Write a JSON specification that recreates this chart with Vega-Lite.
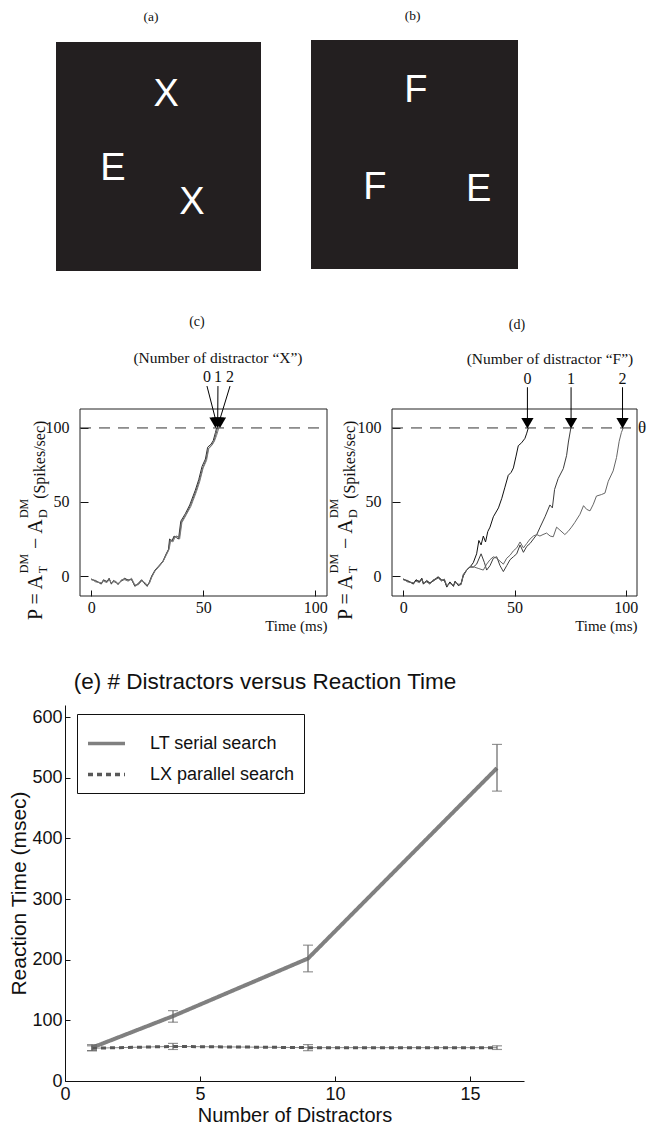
{
  "$schema": "https://vega.github.io/schema/vega-lite/v6.json",
  "width": 648,
  "height": 1126,
  "padding": 0,
  "autosize": {"type": "none"},
  "background": "white",
  "config": {
    "view": {"stroke": null},
    "axis": {"grid": false, "labelColor": "#111", "titleColor": "#111", "domainColor": "#111", "tickColor": "#111", "titleFontWeight": "normal", "labelFlush": false, "labelOverlap": false, "labelBound": false},
    "text": {"color": "#111"}
  },
  "datasets": {
    "stim": [
      {"p": "a", "letter": "X", "x": 53.8, "y": 72.1},
      {"p": "a", "letter": "E", "x": 27.8, "y": 39.7},
      {"p": "a", "letter": "X", "x": 66.3, "y": 24.9},
      {"p": "b", "letter": "F", "x": 50.7, "y": 72.8},
      {"p": "b", "letter": "F", "x": 30.9, "y": 30.4},
      {"p": "b", "letter": "E", "x": 81.0, "y": 29.7}
    ],
    "arrows": [
      {"p": "c", "n": "0", "t": 55.5, "tl": 51.7},
      {"p": "c", "n": "1", "t": 56.5, "tl": 56.6},
      {"p": "c", "n": "2", "t": 57.5, "tl": 62.0},
      {"p": "d", "n": "0", "t": 55.8, "tl": 55.8},
      {"p": "d", "n": "1", "t": 75.4, "tl": 75.4},
      {"p": "d", "n": "2", "t": 98.5, "tl": 98.5}
    ],
    "rt": [
      {"search": "LT serial search", "n": 1, "rt": 55, "lo": 50, "hi": 60},
      {"search": "LT serial search", "n": 4, "rt": 107, "lo": 97, "hi": 116},
      {"search": "LT serial search", "n": 9, "rt": 202, "lo": 180, "hi": 224},
      {"search": "LT serial search", "n": 16, "rt": 516, "lo": 478, "hi": 555},
      {"search": "LX parallel search", "n": 1, "rt": 54, "lo": 50, "hi": 58},
      {"search": "LX parallel search", "n": 4, "rt": 57, "lo": 52, "hi": 62},
      {"search": "LX parallel search", "n": 9, "rt": 55, "lo": 50, "hi": 60},
      {"search": "LX parallel search", "n": 16, "rt": 55, "lo": 52, "hi": 58}
    ],
    "curves": [
      {"p":"c","n":"0","t":0,"v":-2},{"p":"c","n":"0","t":2,"v":-3.5},{"p":"c","n":"0","t":4.5,"v":-5},{"p":"c","n":"0","t":5.5,"v":-2.5},{"p":"c","n":"0","t":7,"v":-4},{"p":"c","n":"0","t":8,"v":-1.5},{"p":"c","n":"0","t":9,"v":-5.5},{"p":"c","n":"0","t":10,"v":-3},{"p":"c","n":"0","t":11,"v":-4},{"p":"c","n":"0","t":12,"v":-5.5},{"p":"c","n":"0","t":13.5,"v":-3},{"p":"c","n":"0","t":15,"v":-1.5},{"p":"c","n":"0","t":16.5,"v":-3},{"p":"c","n":"0","t":18,"v":-2},{"p":"c","n":"0","t":19.5,"v":-7},{"p":"c","n":"0","t":21,"v":-5},{"p":"c","n":"0","t":22.5,"v":-2.5},{"p":"c","n":"0","t":24,"v":-5.5},{"p":"c","n":"0","t":25,"v":-7},{"p":"c","n":"0","t":26,"v":-4},{"p":"c","n":"0","t":27,"v":0},{"p":"c","n":"0","t":28.5,"v":4},{"p":"c","n":"0","t":30,"v":6.5},{"p":"c","n":"0","t":32,"v":10},{"p":"c","n":"0","t":33.5,"v":15},{"p":"c","n":"0","t":34.5,"v":18},{"p":"c","n":"0","t":35,"v":25},{"p":"c","n":"0","t":36,"v":23.5},{"p":"c","n":"0","t":37,"v":27},{"p":"c","n":"0","t":38,"v":26},{"p":"c","n":"0","t":39,"v":25},{"p":"c","n":"0","t":40,"v":37},{"p":"c","n":"0","t":42,"v":42},{"p":"c","n":"0","t":44,"v":48},{"p":"c","n":"0","t":45,"v":52},{"p":"c","n":"0","t":46.5,"v":58},{"p":"c","n":"0","t":48,"v":65},{"p":"c","n":"0","t":49.5,"v":74},{"p":"c","n":"0","t":51,"v":79},{"p":"c","n":"0","t":52,"v":87},{"p":"c","n":"0","t":53.5,"v":89},{"p":"c","n":"0","t":54.5,"v":91.5},{"p":"c","n":"0","t":55.5,"v":97},{"p":"c","n":"0","t":56,"v":100},
      {"p":"c","n":"1","t":0,"v":-2.5},{"p":"c","n":"1","t":2,"v":-3},{"p":"c","n":"1","t":4.5,"v":-5.5},{"p":"c","n":"1","t":5.5,"v":-3},{"p":"c","n":"1","t":7,"v":-3.5},{"p":"c","n":"1","t":8,"v":-2},{"p":"c","n":"1","t":9,"v":-5},{"p":"c","n":"1","t":10,"v":-3.5},{"p":"c","n":"1","t":11,"v":-4.5},{"p":"c","n":"1","t":12,"v":-5},{"p":"c","n":"1","t":13.5,"v":-3.5},{"p":"c","n":"1","t":15,"v":-2},{"p":"c","n":"1","t":16.5,"v":-2.5},{"p":"c","n":"1","t":18,"v":-2.5},{"p":"c","n":"1","t":19.5,"v":-6.5},{"p":"c","n":"1","t":21,"v":-5.5},{"p":"c","n":"1","t":22.5,"v":-3},{"p":"c","n":"1","t":24,"v":-5},{"p":"c","n":"1","t":25,"v":-6.5},{"p":"c","n":"1","t":26,"v":-4.5},{"p":"c","n":"1","t":27,"v":-0.5},{"p":"c","n":"1","t":28.5,"v":3.5},{"p":"c","n":"1","t":30,"v":6},{"p":"c","n":"1","t":32,"v":9.5},{"p":"c","n":"1","t":33.5,"v":14.5},{"p":"c","n":"1","t":34.5,"v":17.5},{"p":"c","n":"1","t":35.3,"v":24.5},{"p":"c","n":"1","t":36.3,"v":24},{"p":"c","n":"1","t":37.3,"v":26.5},{"p":"c","n":"1","t":38.3,"v":27},{"p":"c","n":"1","t":39.3,"v":25.5},{"p":"c","n":"1","t":40.3,"v":36.5},{"p":"c","n":"1","t":42.3,"v":41.5},{"p":"c","n":"1","t":44.3,"v":47.5},{"p":"c","n":"1","t":45.3,"v":51.5},{"p":"c","n":"1","t":46.8,"v":57.5},{"p":"c","n":"1","t":48.3,"v":64.5},{"p":"c","n":"1","t":49.8,"v":73},{"p":"c","n":"1","t":51.3,"v":78.5},{"p":"c","n":"1","t":52.3,"v":86},{"p":"c","n":"1","t":53.8,"v":88.5},{"p":"c","n":"1","t":54.8,"v":91},{"p":"c","n":"1","t":55.8,"v":96},{"p":"c","n":"1","t":56.4,"v":100},
      {"p":"c","n":"2","t":0,"v":-2},{"p":"c","n":"2","t":2,"v":-4},{"p":"c","n":"2","t":4.5,"v":-4.5},{"p":"c","n":"2","t":5.5,"v":-3.5},{"p":"c","n":"2","t":7,"v":-4.5},{"p":"c","n":"2","t":8,"v":-2.5},{"p":"c","n":"2","t":9,"v":-4.5},{"p":"c","n":"2","t":10,"v":-4},{"p":"c","n":"2","t":11,"v":-3.5},{"p":"c","n":"2","t":12,"v":-6},{"p":"c","n":"2","t":13.5,"v":-2.5},{"p":"c","n":"2","t":15,"v":-2.5},{"p":"c","n":"2","t":16.5,"v":-3.5},{"p":"c","n":"2","t":18,"v":-1.5},{"p":"c","n":"2","t":19.5,"v":-6},{"p":"c","n":"2","t":21,"v":-6},{"p":"c","n":"2","t":22.5,"v":-3.5},{"p":"c","n":"2","t":24,"v":-4.5},{"p":"c","n":"2","t":25,"v":-6},{"p":"c","n":"2","t":26,"v":-5},{"p":"c","n":"2","t":27,"v":-1},{"p":"c","n":"2","t":28.5,"v":3.5},{"p":"c","n":"2","t":30,"v":6},{"p":"c","n":"2","t":32,"v":9.5},{"p":"c","n":"2","t":33.5,"v":14},{"p":"c","n":"2","t":34.8,"v":18},{"p":"c","n":"2","t":35.5,"v":24},{"p":"c","n":"2","t":36.5,"v":23},{"p":"c","n":"2","t":37.5,"v":26.5},{"p":"c","n":"2","t":38.5,"v":26.5},{"p":"c","n":"2","t":39.5,"v":25},{"p":"c","n":"2","t":40.5,"v":36},{"p":"c","n":"2","t":42.5,"v":41.5},{"p":"c","n":"2","t":44.5,"v":47},{"p":"c","n":"2","t":45.5,"v":51},{"p":"c","n":"2","t":47,"v":57},{"p":"c","n":"2","t":48.5,"v":64},{"p":"c","n":"2","t":50,"v":73},{"p":"c","n":"2","t":51.5,"v":78},{"p":"c","n":"2","t":52.5,"v":86},{"p":"c","n":"2","t":54,"v":88.5},{"p":"c","n":"2","t":55,"v":91},{"p":"c","n":"2","t":56,"v":95},{"p":"c","n":"2","t":57,"v":100},
      {"p":"d","n":"0","t":0,"v":-2},{"p":"d","n":"0","t":2,"v":-3.5},{"p":"d","n":"0","t":4.6,"v":-5},{"p":"d","n":"0","t":5.8,"v":-2.5},{"p":"d","n":"0","t":7.3,"v":-4},{"p":"d","n":"0","t":8.4,"v":-1.5},{"p":"d","n":"0","t":9.1,"v":-5.5},{"p":"d","n":"0","t":10.6,"v":-3},{"p":"d","n":"0","t":12,"v":-5},{"p":"d","n":"0","t":13.5,"v":-3},{"p":"d","n":"0","t":15.8,"v":-0.5},{"p":"d","n":"0","t":17.3,"v":-3},{"p":"d","n":"0","t":18.5,"v":-2.5},{"p":"d","n":"0","t":19.6,"v":-7.5},{"p":"d","n":"0","t":21,"v":-4},{"p":"d","n":"0","t":22.6,"v":-7},{"p":"d","n":"0","t":23.3,"v":-3.5},{"p":"d","n":"0","t":24.8,"v":-6.5},{"p":"d","n":"0","t":26,"v":-5.5},{"p":"d","n":"0","t":27,"v":0},{"p":"d","n":"0","t":28.5,"v":4},{"p":"d","n":"0","t":30,"v":6},{"p":"d","n":"0","t":31.5,"v":9},{"p":"d","n":"0","t":33,"v":15},{"p":"d","n":"0","t":34,"v":24},{"p":"d","n":"0","t":35,"v":21},{"p":"d","n":"0","t":36,"v":27},{"p":"d","n":"0","t":37,"v":23},{"p":"d","n":"0","t":38,"v":30},{"p":"d","n":"0","t":39,"v":33},{"p":"d","n":"0","t":40.5,"v":40},{"p":"d","n":"0","t":42.8,"v":46},{"p":"d","n":"0","t":44.3,"v":52.5},{"p":"d","n":"0","t":45.7,"v":60},{"p":"d","n":"0","t":47.2,"v":68},{"p":"d","n":"0","t":48.5,"v":70},{"p":"d","n":"0","t":49.5,"v":73},{"p":"d","n":"0","t":50.7,"v":81},{"p":"d","n":"0","t":51.7,"v":88},{"p":"d","n":"0","t":53.2,"v":90},{"p":"d","n":"0","t":54.7,"v":93},{"p":"d","n":"0","t":55.5,"v":96.5},{"p":"d","n":"0","t":56.2,"v":100},
      {"p":"d","n":"1","t":0,"v":-2.5},{"p":"d","n":"1","t":2,"v":-3},{"p":"d","n":"1","t":4.6,"v":-5.5},{"p":"d","n":"1","t":5.8,"v":-3},{"p":"d","n":"1","t":7.3,"v":-3.5},{"p":"d","n":"1","t":8.4,"v":-2},{"p":"d","n":"1","t":9.1,"v":-5},{"p":"d","n":"1","t":10.6,"v":-3.5},{"p":"d","n":"1","t":12,"v":-4.5},{"p":"d","n":"1","t":13.5,"v":-3.5},{"p":"d","n":"1","t":15.8,"v":-1},{"p":"d","n":"1","t":17.3,"v":-2.5},{"p":"d","n":"1","t":18.5,"v":-3},{"p":"d","n":"1","t":19.6,"v":-7},{"p":"d","n":"1","t":21,"v":-4.5},{"p":"d","n":"1","t":22.6,"v":-6.5},{"p":"d","n":"1","t":23.3,"v":-4},{"p":"d","n":"1","t":24.8,"v":-6},{"p":"d","n":"1","t":26,"v":-5},{"p":"d","n":"1","t":27,"v":1},{"p":"d","n":"1","t":28.5,"v":4},{"p":"d","n":"1","t":30,"v":6},{"p":"d","n":"1","t":31.5,"v":6},{"p":"d","n":"1","t":33,"v":8},{"p":"d","n":"1","t":35,"v":15},{"p":"d","n":"1","t":36.5,"v":9},{"p":"d","n":"1","t":37.5,"v":4},{"p":"d","n":"1","t":39,"v":7},{"p":"d","n":"1","t":40.5,"v":12},{"p":"d","n":"1","t":42,"v":13},{"p":"d","n":"1","t":43.5,"v":7},{"p":"d","n":"1","t":45,"v":3},{"p":"d","n":"1","t":46.5,"v":7},{"p":"d","n":"1","t":48,"v":11},{"p":"d","n":"1","t":49.5,"v":13},{"p":"d","n":"1","t":51,"v":15},{"p":"d","n":"1","t":52.5,"v":21},{"p":"d","n":"1","t":54,"v":16},{"p":"d","n":"1","t":55.5,"v":20},{"p":"d","n":"1","t":57,"v":22},{"p":"d","n":"1","t":58.5,"v":25},{"p":"d","n":"1","t":60,"v":28},{"p":"d","n":"1","t":61.5,"v":33},{"p":"d","n":"1","t":63.7,"v":40},{"p":"d","n":"1","t":65.9,"v":48},{"p":"d","n":"1","t":67,"v":46},{"p":"d","n":"1","t":68,"v":58.5},{"p":"d","n":"1","t":69.6,"v":65.8},{"p":"d","n":"1","t":71.9,"v":72.5},{"p":"d","n":"1","t":73.4,"v":81.5},{"p":"d","n":"1","t":74.2,"v":90.5},{"p":"d","n":"1","t":75.3,"v":100},
      {"p":"d","n":"2","t":0,"v":-2},{"p":"d","n":"2","t":2,"v":-4},{"p":"d","n":"2","t":4.6,"v":-4.5},{"p":"d","n":"2","t":5.8,"v":-3.5},{"p":"d","n":"2","t":7.3,"v":-4.5},{"p":"d","n":"2","t":8.4,"v":-2.5},{"p":"d","n":"2","t":9.1,"v":-4.5},{"p":"d","n":"2","t":10.6,"v":-4},{"p":"d","n":"2","t":12,"v":-5.5},{"p":"d","n":"2","t":13.5,"v":-2.5},{"p":"d","n":"2","t":15.8,"v":-1.5},{"p":"d","n":"2","t":17.3,"v":-3.5},{"p":"d","n":"2","t":18.5,"v":-2},{"p":"d","n":"2","t":19.6,"v":-6.5},{"p":"d","n":"2","t":21,"v":-5},{"p":"d","n":"2","t":22.6,"v":-6},{"p":"d","n":"2","t":23.3,"v":-4.5},{"p":"d","n":"2","t":24.8,"v":-5.5},{"p":"d","n":"2","t":26,"v":-6},{"p":"d","n":"2","t":27,"v":0.5},{"p":"d","n":"2","t":28.5,"v":4},{"p":"d","n":"2","t":30,"v":6.5},{"p":"d","n":"2","t":32,"v":6},{"p":"d","n":"2","t":34,"v":5},{"p":"d","n":"2","t":36,"v":4},{"p":"d","n":"2","t":37.5,"v":8},{"p":"d","n":"2","t":39,"v":11},{"p":"d","n":"2","t":40.5,"v":13},{"p":"d","n":"2","t":42,"v":12},{"p":"d","n":"2","t":43.5,"v":10},{"p":"d","n":"2","t":45,"v":8},{"p":"d","n":"2","t":46.5,"v":12},{"p":"d","n":"2","t":48,"v":14},{"p":"d","n":"2","t":49.5,"v":17},{"p":"d","n":"2","t":51,"v":19},{"p":"d","n":"2","t":52.5,"v":23},{"p":"d","n":"2","t":54,"v":19},{"p":"d","n":"2","t":55.5,"v":22},{"p":"d","n":"2","t":57,"v":25},{"p":"d","n":"2","t":58.5,"v":27},{"p":"d","n":"2","t":60,"v":28},{"p":"d","n":"2","t":61.4,"v":27},{"p":"d","n":"2","t":62.8,"v":28},{"p":"d","n":"2","t":64.4,"v":29},{"p":"d","n":"2","t":66,"v":27},{"p":"d","n":"2","t":67.4,"v":26.5},{"p":"d","n":"2","t":68.9,"v":33},{"p":"d","n":"2","t":70.4,"v":31},{"p":"d","n":"2","t":72.6,"v":28},{"p":"d","n":"2","t":74,"v":30},{"p":"d","n":"2","t":75.6,"v":33},{"p":"d","n":"2","t":77,"v":36},{"p":"d","n":"2","t":79.4,"v":41.7},{"p":"d","n":"2","t":81,"v":47.5},{"p":"d","n":"2","t":82.4,"v":45},{"p":"d","n":"2","t":83.9,"v":44},{"p":"d","n":"2","t":85.4,"v":48.5},{"p":"d","n":"2","t":86.8,"v":54},{"p":"d","n":"2","t":89,"v":55},{"p":"d","n":"2","t":90.6,"v":56},{"p":"d","n":"2","t":92.1,"v":64},{"p":"d","n":"2","t":94.3,"v":71},{"p":"d","n":"2","t":95.8,"v":80},{"p":"d","n":"2","t":97,"v":91},{"p":"d","n":"2","t":98,"v":97},{"p":"d","n":"2","t":98.8,"v":100}
    ]
  },
  "resolve": {
    "scale": {"x": "independent", "y": "independent", "color": "independent", "strokeDash": "independent"},
    "axis": {"x": "independent", "y": "independent"}
  },
  "layer": [
    {
      "layer": [
        {
          "data": {"values": [{}]},
          "mark": {"type": "rect", "color": "#231f20"},
          "encoding": {
            "x": {"datum": 0, "type": "quantitative", "scale": {"domain": [0, 100], "range": [56, 261], "nice": false, "zero": false}, "axis": null},
            "x2": {"datum": 100},
            "y": {"datum": 0, "type": "quantitative", "scale": {"domain": [0, 100], "range": [271, 42], "nice": false, "zero": false}, "axis": null},
            "y2": {"datum": 100}
          }
        },
        {
          "data": {"name": "stim"},
          "transform": [{"filter": "datum.p === 'a'"}],
          "mark": {"type": "text", "font": "Liberation Sans", "fontSize": 38, "color": "white", "align": "center", "baseline": "alphabetic"},
          "encoding": {
            "x": {"field": "x", "type": "quantitative", "axis": null},
            "y": {"field": "y", "type": "quantitative", "axis": null},
            "text": {"field": "letter"}
          }
        },
        {
          "data": {"values": [{}]},
          "mark": {"type": "text", "font": "Liberation Serif", "fontSize": 13.5, "align": "center", "baseline": "middle"},
          "encoding": {
            "x": {"datum": 46.3, "type": "quantitative", "axis": null},
            "y": {"datum": 110.7, "type": "quantitative", "axis": null},
            "text": {"value": "(a)"}
          }
        }
      ]
    },
    {
      "layer": [
        {
          "data": {"values": [{}]},
          "mark": {"type": "rect", "color": "#231f20"},
          "encoding": {
            "x": {"datum": 0, "type": "quantitative", "scale": {"domain": [0, 100], "range": [311, 518], "nice": false, "zero": false}, "axis": null},
            "x2": {"datum": 100},
            "y": {"datum": 0, "type": "quantitative", "scale": {"domain": [0, 100], "range": [269, 40], "nice": false, "zero": false}, "axis": null},
            "y2": {"datum": 100}
          }
        },
        {
          "data": {"name": "stim"},
          "transform": [{"filter": "datum.p === 'b'"}],
          "mark": {"type": "text", "font": "Liberation Sans", "fontSize": 38, "color": "white", "align": "center", "baseline": "alphabetic"},
          "encoding": {
            "x": {"field": "x", "type": "quantitative", "axis": null},
            "y": {"field": "y", "type": "quantitative", "axis": null},
            "text": {"field": "letter"}
          }
        },
        {
          "data": {"values": [{}]},
          "mark": {"type": "text", "font": "Liberation Serif", "fontSize": 13.5, "align": "center", "baseline": "middle"},
          "encoding": {
            "x": {"datum": 49.1, "type": "quantitative", "axis": null},
            "y": {"datum": 110.5, "type": "quantitative", "axis": null},
            "text": {"value": "(b)"}
          }
        }
      ]
    },
    {
      "layer": [
        {
          "data": {"name": "curves"},
          "transform": [{"filter": "datum.p === 'c'"}],
          "mark": {"type": "line", "strokeWidth": 1},
          "encoding": {
            "x": {"field": "t", "type": "quantitative", "scale": {"domain": [-5, 105.3], "range": [80, 327], "nice": false, "zero": false},
              "axis": {"orient": "bottom", "offset": -530, "values": [0, 50, 100], "domain": false, "tickSize": -6, "labelPadding": 9, "labelFont": "Liberation Serif", "labelFontSize": 16, "title": "Time (ms)", "titleAnchor": "end", "titleFont": "Liberation Serif", "titleFontSize": 15, "titlePadding": 3}},
            "y": {"field": "v", "type": "quantitative", "scale": {"domain": [-13.5, 112.8], "range": [596, 409], "nice": false, "zero": false},
              "axis": {"orient": "left", "offset": -80, "values": [0, 50, 100], "domain": false, "tickSize": -8, "labelPadding": 19, "labelFont": "Liberation Serif", "labelFontSize": 16, "title": null}},
            "color": {"field": "n", "type": "nominal", "scale": {"domain": ["0", "1", "2"], "range": ["#333333", "#555555", "#7a7a7a"]}, "legend": null}
          }
        },
        {
          "data": {"values": [{}]},
          "mark": {"type": "rect", "filled": false, "color": "#222", "strokeWidth": 1},
          "encoding": {"x": {"datum": -5, "type": "quantitative"}, "x2": {"datum": 105.3}, "y": {"datum": -13.5, "type": "quantitative"}, "y2": {"datum": 112.8}}
        },
        {
          "data": {"values": [{}]},
          "mark": {"type": "rule", "strokeDash": [11, 8], "color": "#333", "strokeWidth": 1},
          "encoding": {"x": {"datum": -5, "type": "quantitative"}, "x2": {"datum": 105.3}, "y": {"datum": 100, "type": "quantitative"}}
        },
        {
          "data": {"name": "arrows"},
          "transform": [{"filter": "datum.p === 'c'"}],
          "mark": {"type": "rule", "color": "#000", "strokeWidth": 1},
          "encoding": {"x": {"field": "tl", "type": "quantitative"}, "x2": {"field": "t"}, "y": {"datum": 128.3, "type": "quantitative"}, "y2": {"datum": 106}}
        },
        {
          "data": {"name": "arrows"},
          "transform": [{"filter": "datum.p === 'c'"}],
          "mark": {"type": "point", "shape": "triangle-down", "filled": true, "color": "#000", "size": 150, "opacity": 1},
          "encoding": {"x": {"field": "t", "type": "quantitative"}, "y": {"datum": 103.5, "type": "quantitative"}}
        },
        {
          "data": {"name": "arrows"},
          "transform": [{"filter": "datum.p === 'c'"}],
          "mark": {"type": "text", "font": "Liberation Serif", "fontSize": 16, "baseline": "middle", "align": "center"},
          "encoding": {"x": {"field": "tl", "type": "quantitative"}, "y": {"datum": 134.4, "type": "quantitative"}, "text": {"field": "n"}}
        },
        {
          "data": {"values": [{}]},
          "layer": [
            {"mark": {"type": "text", "font": "Liberation Serif", "fontSize": 15.5, "baseline": "middle", "align": "center"},
             "encoding": {"x": {"datum": 56.6, "type": "quantitative"}, "y": {"datum": 147.2, "type": "quantitative"}, "text": {"value": "(Number of distractor “X”)"}}},
            {"mark": {"type": "text", "font": "Liberation Serif", "fontSize": 14, "baseline": "middle", "align": "center"},
             "encoding": {"x": {"datum": 47.2, "type": "quantitative"}, "y": {"datum": 171.6, "type": "quantitative"}, "text": {"value": "(c)"}}},
            {"mark": {"type": "text", "angle": 270, "align": "left", "baseline": "alphabetic", "font": "Liberation Serif", "fontSize": 20},
             "encoding": {"x": {"datum": -22.0, "type": "quantitative"}, "y": {"datum": -29.7, "type": "quantitative"}, "text": {"value": "P = A"}}},
            {"mark": {"type": "text", "angle": 270, "align": "left", "baseline": "alphabetic", "font": "Liberation Serif", "fontSize": 12},
             "encoding": {"x": {"datum": -28.2, "type": "quantitative"}, "y": {"datum": 1.9, "type": "quantitative"}, "text": {"value": "DM"}}},
            {"mark": {"type": "text", "angle": 270, "align": "left", "baseline": "alphabetic", "font": "Liberation Serif", "fontSize": 12},
             "encoding": {"x": {"datum": -19.7, "type": "quantitative"}, "y": {"datum": 1.9, "type": "quantitative"}, "text": {"value": "T"}}},
            {"mark": {"type": "text", "angle": 270, "align": "left", "baseline": "alphabetic", "font": "Liberation Serif", "fontSize": 20},
             "encoding": {"x": {"datum": -22.0, "type": "quantitative"}, "y": {"datum": 18.3, "type": "quantitative"}, "text": {"value": "− A"}}},
            {"mark": {"type": "text", "angle": 270, "align": "left", "baseline": "alphabetic", "font": "Liberation Serif", "fontSize": 12},
             "encoding": {"x": {"datum": -28.2, "type": "quantitative"}, "y": {"datum": 39.1, "type": "quantitative"}, "text": {"value": "DM"}}},
            {"mark": {"type": "text", "angle": 270, "align": "left", "baseline": "alphabetic", "font": "Liberation Serif", "fontSize": 12},
             "encoding": {"x": {"datum": -19.7, "type": "quantitative"}, "y": {"datum": 39.1, "type": "quantitative"}, "text": {"value": "D"}}},
            {"mark": {"type": "text", "angle": 270, "align": "left", "baseline": "alphabetic", "font": "Liberation Serif", "fontSize": 16},
             "encoding": {"x": {"datum": -20.6, "type": "quantitative"}, "y": {"datum": 52.1, "type": "quantitative"}, "text": {"value": "(Spikes/sec)"}}}
          ]
        }
      ]
    },
    {
      "layer": [
        {
          "data": {"name": "curves"},
          "transform": [{"filter": "datum.p === 'd'"}],
          "mark": {"type": "line", "strokeWidth": 1},
          "encoding": {
            "x": {"field": "t", "type": "quantitative", "scale": {"domain": [-5, 105], "range": [392, 637], "nice": false, "zero": false},
              "axis": {"orient": "bottom", "offset": -530, "values": [0, 50, 100], "domain": false, "tickSize": -6, "labelPadding": 9, "labelFont": "Liberation Serif", "labelFontSize": 16, "title": "Time (ms)", "titleAnchor": "end", "titleFont": "Liberation Serif", "titleFontSize": 15, "titlePadding": 3}},
            "y": {"field": "v", "type": "quantitative", "scale": {"domain": [-13.5, 112.8], "range": [596, 409], "nice": false, "zero": false},
              "axis": {"orient": "left", "offset": -392, "values": [0, 50, 100], "domain": false, "tickSize": -8, "labelPadding": 19, "labelFont": "Liberation Serif", "labelFontSize": 16, "title": null}},
            "color": {"field": "n", "type": "nominal", "scale": {"domain": ["0", "1", "2"], "range": ["#111111", "#3c3c3c", "#666666"]}, "legend": null}
          }
        },
        {
          "data": {"values": [{}]},
          "mark": {"type": "rect", "filled": false, "color": "#222", "strokeWidth": 1},
          "encoding": {"x": {"datum": -5, "type": "quantitative"}, "x2": {"datum": 105}, "y": {"datum": -13.5, "type": "quantitative"}, "y2": {"datum": 112.8}}
        },
        {
          "data": {"values": [{}]},
          "mark": {"type": "rule", "strokeDash": [11, 8], "color": "#333", "strokeWidth": 1},
          "encoding": {"x": {"datum": -5, "type": "quantitative"}, "x2": {"datum": 105}, "y": {"datum": 100, "type": "quantitative"}}
        },
        {
          "data": {"name": "arrows"},
          "transform": [{"filter": "datum.p === 'd'"}],
          "mark": {"type": "rule", "color": "#000", "strokeWidth": 1},
          "encoding": {"x": {"field": "tl", "type": "quantitative"}, "x2": {"field": "t"}, "y": {"datum": 127.5, "type": "quantitative"}, "y2": {"datum": 106}}
        },
        {
          "data": {"name": "arrows"},
          "transform": [{"filter": "datum.p === 'd'"}],
          "mark": {"type": "point", "shape": "triangle-down", "filled": true, "color": "#000", "size": 150, "opacity": 1},
          "encoding": {"x": {"field": "t", "type": "quantitative"}, "y": {"datum": 103.2, "type": "quantitative"}}
        },
        {
          "data": {"name": "arrows"},
          "transform": [{"filter": "datum.p === 'd'"}],
          "mark": {"type": "text", "font": "Liberation Serif", "fontSize": 16, "baseline": "middle", "align": "center"},
          "encoding": {"x": {"field": "tl", "type": "quantitative"}, "y": {"datum": 133.1, "type": "quantitative"}, "text": {"field": "n"}}
        },
        {
          "data": {"values": [{}]},
          "layer": [
            {"mark": {"type": "text", "font": "Liberation Serif", "fontSize": 15.5, "baseline": "middle", "align": "center"},
             "encoding": {"x": {"datum": 65.9, "type": "quantitative"}, "y": {"datum": 146.6, "type": "quantitative"}, "text": {"value": "(Number of distractor “F”)"}}},
            {"mark": {"type": "text", "font": "Liberation Serif", "fontSize": 14, "baseline": "middle", "align": "center"},
             "encoding": {"x": {"datum": 51.1, "type": "quantitative"}, "y": {"datum": 169.5, "type": "quantitative"}, "text": {"value": "(d)"}}},
            {"mark": {"type": "text", "font": "Liberation Serif", "fontSize": 17, "baseline": "middle", "align": "left"},
             "encoding": {"x": {"datum": 105.4, "type": "quantitative"}, "y": {"datum": 100, "type": "quantitative"}, "text": {"value": "θ"}}},
            {"mark": {"type": "text", "angle": 270, "align": "left", "baseline": "alphabetic", "font": "Liberation Serif", "fontSize": 20},
             "encoding": {"x": {"datum": -22.96, "type": "quantitative"}, "y": {"datum": -29.7, "type": "quantitative"}, "text": {"value": "P = A"}}},
            {"mark": {"type": "text", "angle": 270, "align": "left", "baseline": "alphabetic", "font": "Liberation Serif", "fontSize": 12},
             "encoding": {"x": {"datum": -29.2, "type": "quantitative"}, "y": {"datum": 1.9, "type": "quantitative"}, "text": {"value": "DM"}}},
            {"mark": {"type": "text", "angle": 270, "align": "left", "baseline": "alphabetic", "font": "Liberation Serif", "fontSize": 12},
             "encoding": {"x": {"datum": -20.7, "type": "quantitative"}, "y": {"datum": 1.9, "type": "quantitative"}, "text": {"value": "T"}}},
            {"mark": {"type": "text", "angle": 270, "align": "left", "baseline": "alphabetic", "font": "Liberation Serif", "fontSize": 20},
             "encoding": {"x": {"datum": -22.96, "type": "quantitative"}, "y": {"datum": 18.3, "type": "quantitative"}, "text": {"value": "− A"}}},
            {"mark": {"type": "text", "angle": 270, "align": "left", "baseline": "alphabetic", "font": "Liberation Serif", "fontSize": 12},
             "encoding": {"x": {"datum": -29.2, "type": "quantitative"}, "y": {"datum": 39.1, "type": "quantitative"}, "text": {"value": "DM"}}},
            {"mark": {"type": "text", "angle": 270, "align": "left", "baseline": "alphabetic", "font": "Liberation Serif", "fontSize": 12},
             "encoding": {"x": {"datum": -20.7, "type": "quantitative"}, "y": {"datum": 39.1, "type": "quantitative"}, "text": {"value": "D"}}},
            {"mark": {"type": "text", "angle": 270, "align": "left", "baseline": "alphabetic", "font": "Liberation Serif", "fontSize": 16},
             "encoding": {"x": {"datum": -21.6, "type": "quantitative"}, "y": {"datum": 52.1, "type": "quantitative"}, "text": {"value": "(Spikes/sec)"}}}
          ]
        }
      ]
    },
    {
      "layer": [
        {
          "data": {"name": "rt"},
          "transform": [{"filter": "datum.search === 'LT serial search'"}],
          "mark": {"type": "line", "strokeWidth": 4},
          "encoding": {
            "x": {"field": "n", "type": "quantitative", "scale": {"domain": [0, 17], "range": [65, 524], "nice": false, "zero": false},
              "axis": {"orient": "bottom", "offset": -45, "values": [0, 5, 10, 15], "tickSize": -5, "labelPadding": 9, "labelFont": "Liberation Sans", "labelFontSize": 18, "title": "Number of Distractors", "titleFont": "Liberation Sans", "titleFontSize": 20, "titlePadding": 2}},
            "y": {"field": "rt", "type": "quantitative", "scale": {"domain": [0, 620], "range": [1081, 705], "nice": false, "zero": false},
              "axis": {"orient": "left", "offset": -65, "values": [0, 100, 200, 300, 400, 500, 600], "tickSize": -5, "labelPadding": 8, "labelFont": "Liberation Sans", "labelFontSize": 18, "title": "Reaction Time (msec)", "titleFont": "Liberation Sans", "titleFontSize": 21, "titlePadding": 2}},
            "color": {"field": "search", "type": "nominal", "scale": {"domain": ["LT serial search", "LX parallel search"], "range": ["#808080", "#585858"]},
              "legend": {"title": null, "orient": "none", "legendX": 77, "legendY": 714, "strokeColor": "#111", "fillColor": "#fff", "padding": 9, "symbolType": "stroke", "symbolSize": 1369, "symbolStrokeWidth": 3.5, "labelFont": "Liberation Sans", "labelFontSize": 18, "labelOffset": 23, "rowPadding": 1, "labelColor": "#111", "labelLimit": 300}},
            "strokeDash": {"field": "search", "type": "nominal", "scale": {"domain": ["LT serial search", "LX parallel search"], "range": [[1, 0], [5, 4]]},
              "legend": {"title": null, "orient": "none", "legendX": 77, "legendY": 714, "strokeColor": "#111", "fillColor": "#fff", "padding": 9, "symbolType": "stroke", "symbolSize": 1369, "symbolStrokeWidth": 3.5, "labelFont": "Liberation Sans", "labelFontSize": 18, "labelOffset": 23, "rowPadding": 1, "labelColor": "#111", "labelLimit": 300}}
          }
        },
        {
          "data": {"name": "rt"},
          "transform": [{"filter": "datum.search === 'LX parallel search'"}],
          "mark": {"type": "line", "strokeWidth": 1, "color": "#8a8a8a"},
          "encoding": {"x": {"field": "n", "type": "quantitative"}, "y": {"field": "rt", "type": "quantitative"}}
        },
        {
          "data": {"name": "rt"},
          "transform": [{"filter": "datum.search === 'LX parallel search'"}],
          "mark": {"type": "line", "strokeWidth": 3},
          "encoding": {
            "x": {"field": "n", "type": "quantitative"},
            "y": {"field": "rt", "type": "quantitative"},
            "color": {"field": "search", "type": "nominal"},
            "strokeDash": {"field": "search", "type": "nominal"}
          }
        },
        {
          "data": {"name": "rt"},
          "mark": {"type": "rule", "color": "#666", "strokeWidth": 1.2},
          "encoding": {"x": {"field": "n", "type": "quantitative"}, "y": {"field": "lo", "type": "quantitative"}, "y2": {"field": "hi"}}
        },
        {
          "data": {"name": "rt"},
          "mark": {"type": "tick", "orient": "horizontal", "size": 10, "thickness": 1.2, "color": "#666"},
          "encoding": {"x": {"field": "n", "type": "quantitative"}, "y": {"field": "lo", "type": "quantitative"}}
        },
        {
          "data": {"name": "rt"},
          "mark": {"type": "tick", "orient": "horizontal", "size": 10, "thickness": 1.2, "color": "#666"},
          "encoding": {"x": {"field": "n", "type": "quantitative"}, "y": {"field": "hi", "type": "quantitative"}}
        },
        {
          "data": {"values": [{}]},
          "mark": {"type": "text", "font": "Liberation Sans", "fontSize": 22.5, "baseline": "middle", "align": "center"},
          "encoding": {"x": {"datum": 7.41, "type": "quantitative"}, "y": {"datum": 658, "type": "quantitative"}, "text": {"value": "(e) # Distractors versus Reaction Time"}}
        }
      ]
    }
  ]
}
